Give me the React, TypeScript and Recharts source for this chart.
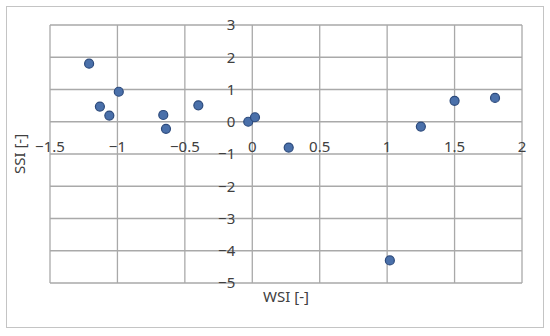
import React from 'react';
import { ScatterChart, Scatter, XAxis, YAxis, ReferenceDot, ReferenceLine } from 'recharts';

const wsi = [-1.21, -0.99, -1.13, -1.06, -0.66, -0.64, -0.40, -0.03, 0.02, 0.27, 1.02, 1.25, 1.50, 1.80];
const ssi = [1.80, 0.93, 0.47, 0.19, 0.21, -0.22, 0.51, 0.0, 0.14, -0.80, -4.30, -0.15, 0.65, 0.74];
const xTicks = [-1.5, -1, -0.5, 0, 0.5, 1, 1.5, 2];
const yTicks = [-5, -4, -3, -2, -1, 0, 1, 2, 3];
const xTitle = 'WSI [-]';
const yTitle = 'SSI [-]';

const data = wsi.map((x, i) => ({ x, y: ssi[i] }));
const fmt = (v: number) => String(v).replace('-', '\u2212');
const FONT = '"Noto Sans", sans-serif';
const TXT = '#404040';
const GRID = '#a9a9a9';

const Dot = (props: any) => (
  <circle cx={props.cx} cy={props.cy} r={4.5} fill="#4a70aa" stroke="#2c4a7c" strokeWidth={1.2} />
);

export default function App() {
  return (
    <div style={{ position: 'absolute', left: 0, top: 0, width: 550, height: 336, background: '#fff' }}>
      <div style={{ position: 'absolute', left: 6, top: 6, width: 536, height: 320, border: '1.5px solid #c4c4c4' }} />
      <div style={{ position: 'absolute', left: 0, top: 0 }}>
        <ScatterChart width={550} height={336} margin={{ top: 25, right: 28, bottom: 13, left: 10 }}>
          <XAxis
            type="number"
            dataKey="x"
            domain={[-1.5, 2]}
            ticks={xTicks}
            height={40}
            axisLine={false}
            tickLine={false}
            tick={false}
            label={{ value: xTitle, position: 'insideTop', offset: 8, fill: TXT, fontSize: 15, fontFamily: FONT }}
          />
          <YAxis
            type="number"
            dataKey="y"
            domain={[-5, 3]}
            ticks={yTicks}
            width={40}
            axisLine={false}
            tickLine={false}
            tick={false}
            label={{ value: yTitle, angle: -90, position: 'center', dx: -10, fill: TXT, fontSize: 15, fontFamily: FONT }}
          />
          {xTicks.map((t) => (
            <ReferenceLine key={'gx' + t} x={t} stroke={GRID} strokeWidth={1.3} />
          ))}
          {yTicks.map((t) => (
            <ReferenceLine key={'gy' + t} y={t} stroke={GRID} strokeWidth={1.3} />
          ))}
          {xTicks.map((t) => (
            <ReferenceDot
              key={'x' + t}
              x={t}
              y={0}
              r={1}
              fill="none"
              stroke="none"
              label={{ value: fmt(t), position: 'bottom', offset: 19, fill: TXT, fontSize: 15, fontFamily: FONT }}
            />
          ))}
          {yTicks.map((t) => (
            <ReferenceDot
              key={'y' + t}
              x={0}
              y={t}
              r={1}
              fill="none"
              stroke="none"
              label={{ value: fmt(t), position: 'left', offset: 16, fill: TXT, fontSize: 15, fontFamily: FONT }}
            />
          ))}
          <Scatter data={data} shape={Dot} isAnimationActive={false} />
        </ScatterChart>
      </div>
    </div>
  );
}
